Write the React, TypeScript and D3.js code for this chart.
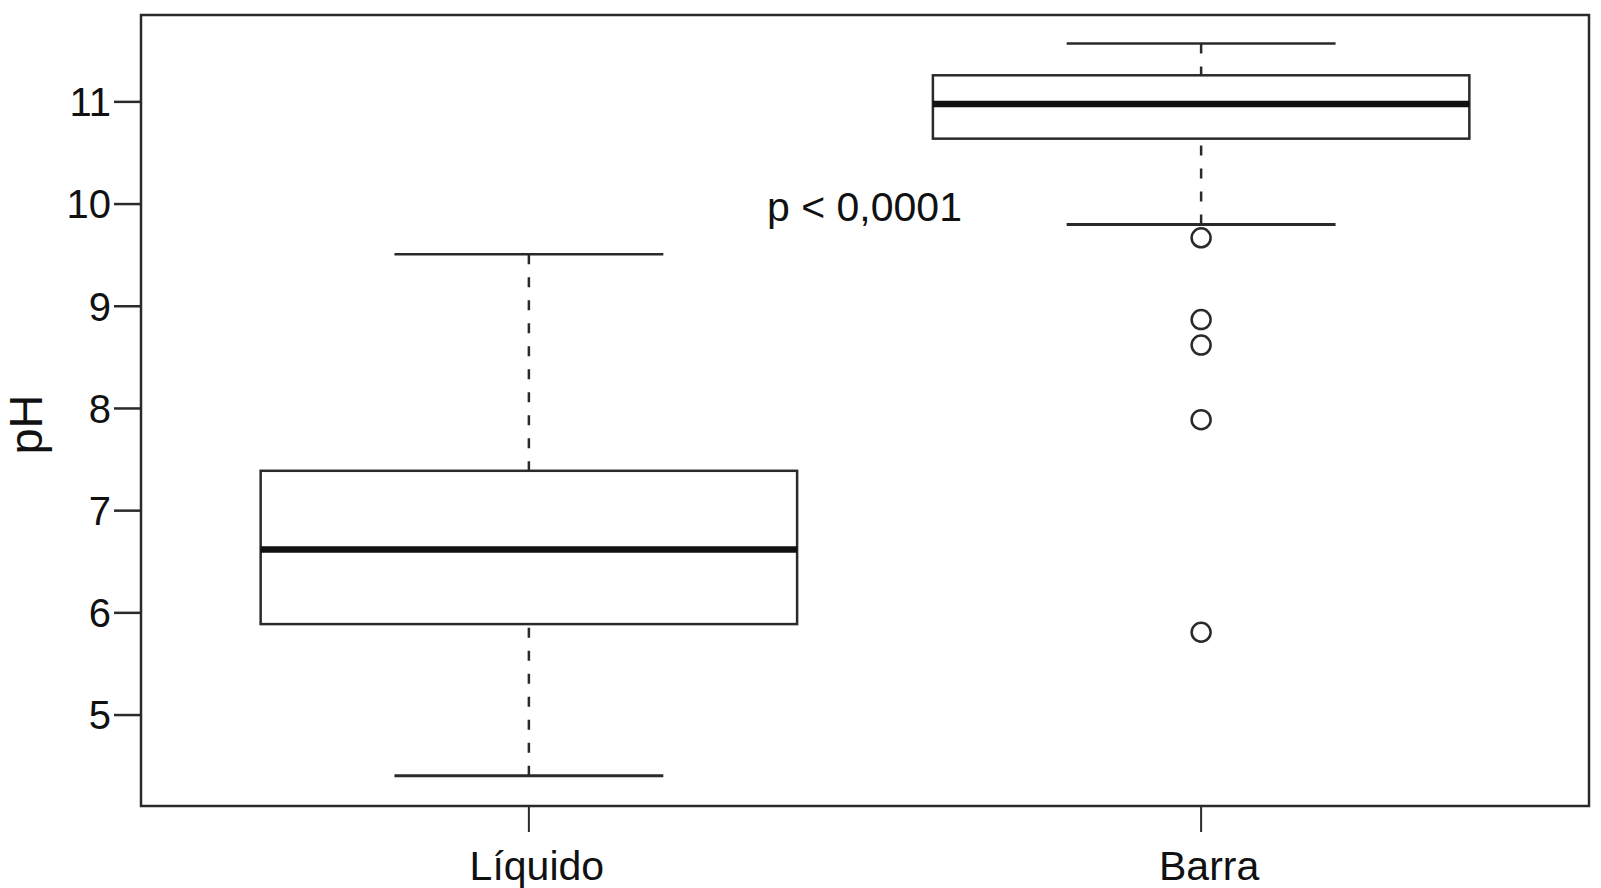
import React from "react";
import * as d3 from "d3";

const categories = ["Líquido", "Barra"];
const q1 = [5.89, 10.64];
const medians = [6.62, 10.98];
const q3 = [7.39, 11.26];
const whiskerLow = [4.405, 9.8];
const whiskerHigh = [9.51, 11.57];
const outliers: number[][] = [[], [9.67, 8.87, 8.62, 7.89, 5.81]];
const yTicks = [5, 6, 7, 8, 9, 10, 11];
const yLabel = "pH";
const annotation = "p < 0,0001";

const W = 1601;
const H = 888;
const FONT = "'Liberation Sans', Arial, Helvetica, sans-serif";
const INK = "#2a2a2a";

export default function App() {
  const left = 141, right = 1589, top = 15, bottom = 806;
  const x = d3.scalePoint<string>().domain(categories).range([left, right]).padding(0.577);
  const y = d3.scaleLinear().domain([4.11, 11.85]).range([bottom, top]);
  const step = x.step();
  const boxW = step * 0.798;
  const capW = step * 0.4;

  return (
    <svg width={W} height={H} style={{ position: "absolute", left: 0, top: 0, display: "block", background: "#fff" }}>
      <rect x={0} y={0} width={W} height={H} fill="#fff" />
      {/* frame */}
      <rect x={left} y={top} width={right - left} height={bottom - top} fill="none" stroke={INK} strokeWidth={2.5} />
      {/* y axis */}
      {yTicks.map((t) => (
        <g key={t}>
          <line x1={114} x2={left} y1={y(t)} y2={y(t)} stroke={INK} strokeWidth={2.5} />
          <text x={111} y={y(t)} dy="0.36em" textAnchor="end" fontFamily={FONT} fontSize={40} fill="#111">
            {t}
          </text>
        </g>
      ))}
      <text
        transform={`translate(42, ${(top + bottom) / 2 + 14}) rotate(-90)`}
        textAnchor="middle"
        fontFamily={FONT}
        fontSize={47}
        fill="#111"
      >
        {yLabel}
      </text>
      {/* x axis */}
      {categories.map((c) => (
        <g key={c}>
          <line x1={x(c)} x2={x(c)} y1={bottom} y2={832} stroke={INK} strokeWidth={2} />
          <text x={(x(c) as number) + 8} y={880} textAnchor="middle" fontFamily={FONT} fontSize={41} fill="#111">
            {c}
          </text>
        </g>
      ))}
      {/* boxes */}
      {categories.map((c, i) => {
        const cx = x(c) as number;
        return (
          <g key={"b" + c}>
            <line x1={cx} x2={cx} y1={y(whiskerHigh[i])} y2={y(q3[i])} stroke={INK} strokeWidth={2.5} strokeDasharray="10,13" />
            <line x1={cx} x2={cx} y1={y(whiskerLow[i])} y2={y(q1[i])} stroke={INK} strokeWidth={2.5} strokeDasharray="10,13" />
            <line x1={cx - capW / 2} x2={cx + capW / 2} y1={y(whiskerHigh[i])} y2={y(whiskerHigh[i])} stroke={INK} strokeWidth={2.5} />
            <line x1={cx - capW / 2} x2={cx + capW / 2} y1={y(whiskerLow[i])} y2={y(whiskerLow[i])} stroke={INK} strokeWidth={3} />
            <rect
              x={cx - boxW / 2}
              y={y(q3[i])}
              width={boxW}
              height={y(q1[i]) - y(q3[i])}
              fill="#fff"
              stroke={INK}
              strokeWidth={2.5}
            />
            <line x1={cx - boxW / 2} x2={cx + boxW / 2} y1={y(medians[i])} y2={y(medians[i])} stroke="#111" strokeWidth={6.5} />
            {outliers[i].map((o, j) => (
              <circle key={j} cx={cx} cy={y(o)} r={9.5} fill="none" stroke={INK} strokeWidth={2.5} />
            ))}
          </g>
        );
      })}
      <text x={767} y={221} fontFamily={FONT} fontSize={41} fill="#111">
        {annotation}
      </text>
    </svg>
  );
}
